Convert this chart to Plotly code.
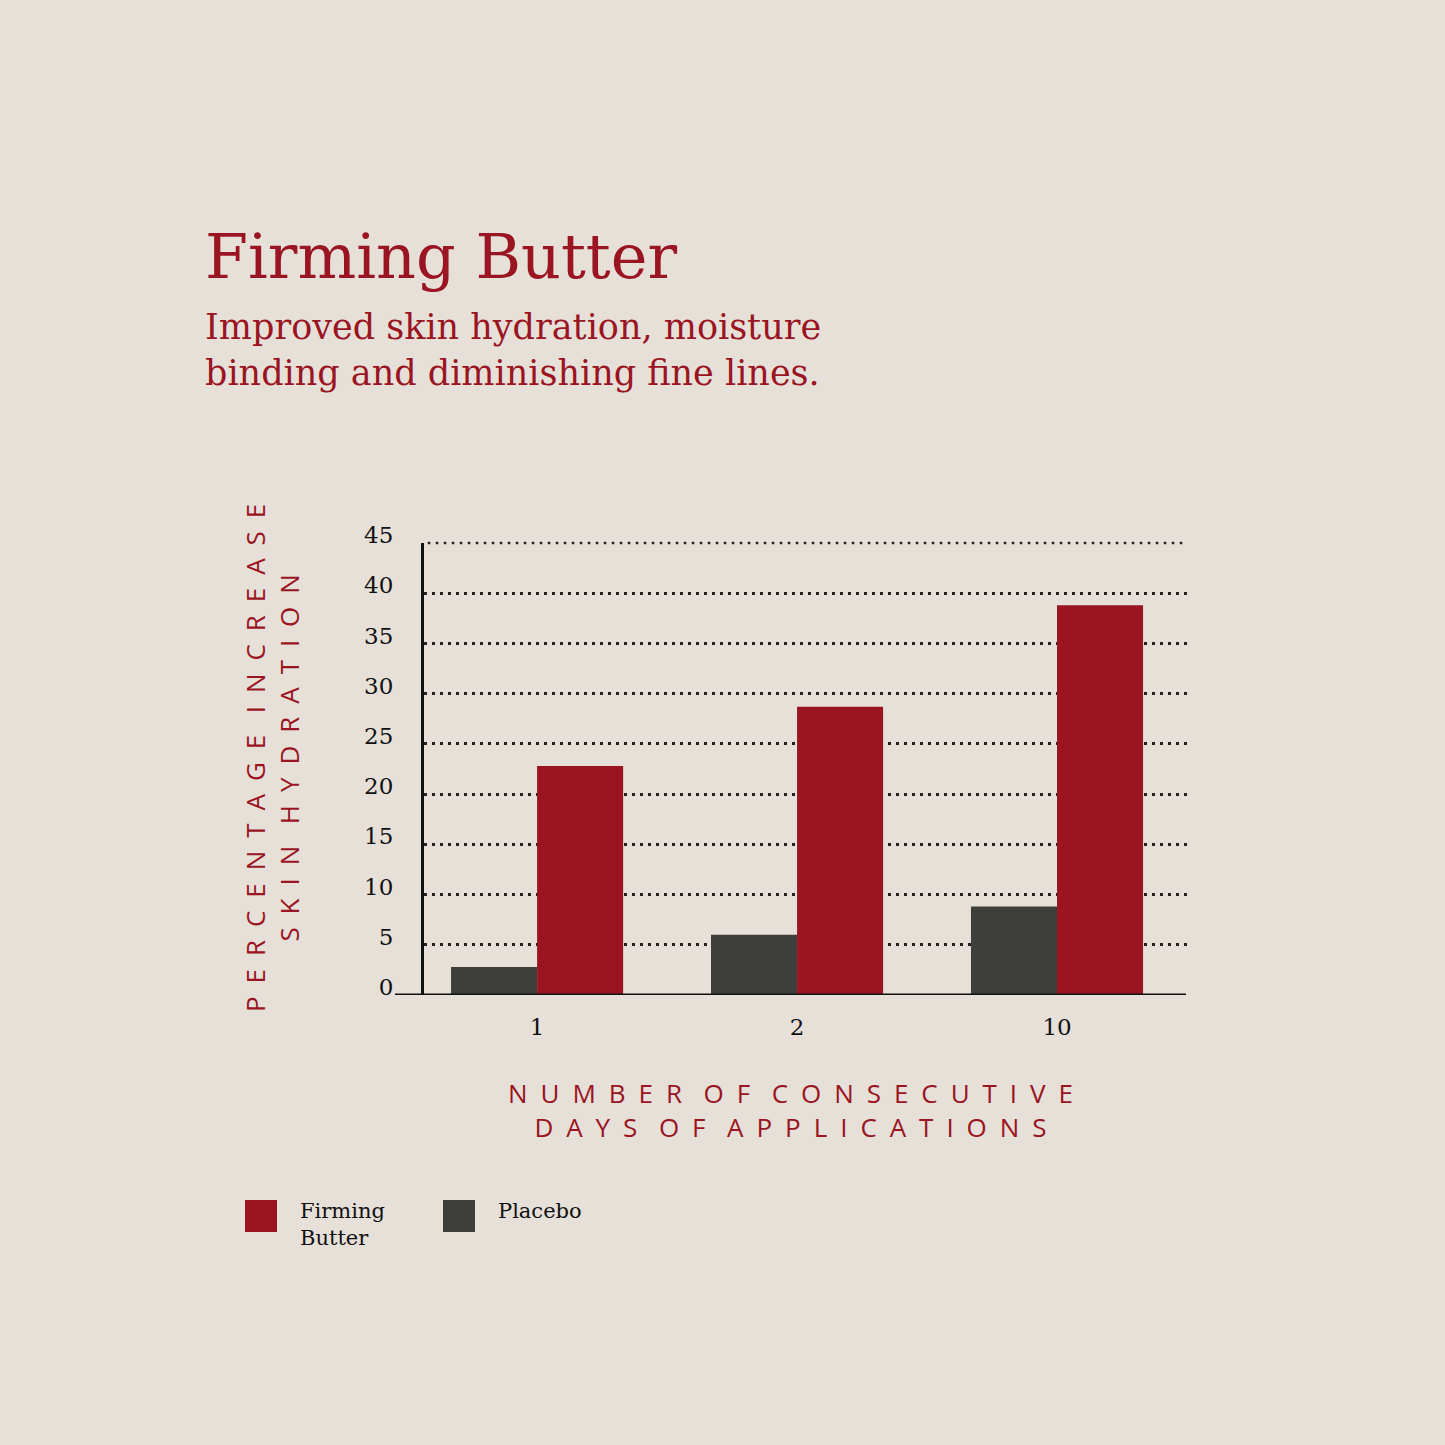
import plotly.graph_objects as go

days = ["1", "2", "10"]
placebo = [2.8, 6.0, 8.8]
firming = [22.8, 28.7, 38.8]
y_ticks = [0, 5, 10, 15, 20, 25, 30, 35, 40, 45]

RED = "#9a1422"
GREY = "#3e3e3a"
BG = "#e6e0d9"
SERIF = "DejaVu Serif"
SANS = "Open Sans"
DOTS = "2.5px,5.5px"

# plot area in page pixels
L, R, T, B = 424, 1187, 543, 995
W, H = 1445, 1445


def px(x):
    return (x - L) / (R - L)


def py(y):
    return (B - y) / (B - T)


def spaced(s):
    gap = "\u2009" * 3
    return (" ".join(gap.join(w) for w in s.split(" "))).replace(" ", "\u2009" * 5)


fig = go.Figure()
fig.add_trace(go.Bar(x=days, y=placebo, name="Placebo", marker_color=GREY, marker_line_width=0))
fig.add_trace(go.Bar(x=days, y=firming, name="Firming Butter", marker_color=RED, marker_line_width=0))

fig.update_layout(
    width=W, height=H,
    margin=dict(l=L, r=W - R, t=T, b=H - B, pad=0),
    paper_bgcolor=BG, plot_bgcolor=BG,
    barmode="group", bargap=0.338, bargroupgap=0,
    showlegend=False,
    font=dict(family=SERIF, color="#111111"),
)

fig.update_xaxes(
    type="category", range=[-0.435, 2.5],
    showgrid=False, showline=False, zeroline=False, ticks="",
    tickfont=dict(family=SERIF, size=23, color="#111111"),
    ticklabelstandoff=16,
)
fig.update_yaxes(
    range=[0, 45], tickvals=y_ticks,
    showgrid=True, gridcolor="#222222", gridwidth=2.5, griddash=DOTS,
    showline=True, linecolor="#111111", linewidth=3,
    zeroline=False, ticks="",
    tickfont=dict(family=SERIF, size=23, color="#111111"),
    ticklabelstandoff=23, ticklabelshift=-8,
)

# top dotted line on the range edge (plotly drops that grid line)
fig.add_shape(type="line", xref="paper", yref="paper", x0=0.005, x1=1, y0=1, y1=1,
              line=dict(color="#222222", width=2.5, dash=DOTS), layer="below")

# x baseline extending left past the y axis
fig.add_shape(type="line", xref="paper", yref="y", x0=px(395), x1=px(1186), y0=0, y1=0,
              line=dict(color="#111111", width=3), layer="above")

# title + subtitle
fig.add_annotation(text="Firming Butter", xref="paper", yref="paper", x=px(203), y=py(256),
                   xanchor="left", yanchor="middle", showarrow=False,
                   font=dict(family=SERIF, size=62, color=RED))
fig.add_annotation(text="Improved skin hydration, moisture<br>binding and diminishing fine lines.",
                   xref="paper", yref="paper", x=px(203), y=py(350), xanchor="left", yanchor="middle",
                   align="left", showarrow=False, font=dict(family=SERIF, size=35, color=RED))

# axis titles
fig.add_annotation(text=spaced("PERCENTAGE INCREASE") + "<br>" + spaced("SKIN HYDRATION"),
                   xref="paper", yref="paper", x=px(272), y=py(758), textangle=-90,
                   xanchor="center", yanchor="middle", showarrow=False,
                   font=dict(family=SANS, size=26, color=RED))
fig.add_annotation(text=spaced("NUMBER OF CONSECUTIVE") + "<br>" + spaced("DAYS OF APPLICATIONS"),
                   xref="paper", yref="paper", x=px(790), y=py(1110),
                   xanchor="center", yanchor="middle", showarrow=False,
                   font=dict(family=SANS, size=26, color=RED))

# legend
legend_items = [("Firming<br>Butter", RED, 245), ("Placebo", GREY, 443)]
for label, colour, x0 in legend_items:
    fig.add_shape(type="rect", xref="paper", yref="paper", x0=px(x0), x1=px(x0 + 32),
                  y0=py(1232), y1=py(1200), fillcolor=colour, line_width=0)
    fig.add_annotation(text=label, xref="paper", yref="paper", x=px(x0 + 53), y=py(1197),
                       xanchor="left", yanchor="top", align="left", showarrow=False,
                       font=dict(family=SERIF, size=21, color="#111111"))

fig.write_html("out.html", config={"displayModeBar": False},
               post_script="document.body.style.margin='0';document.body.style.overflow='hidden';")
